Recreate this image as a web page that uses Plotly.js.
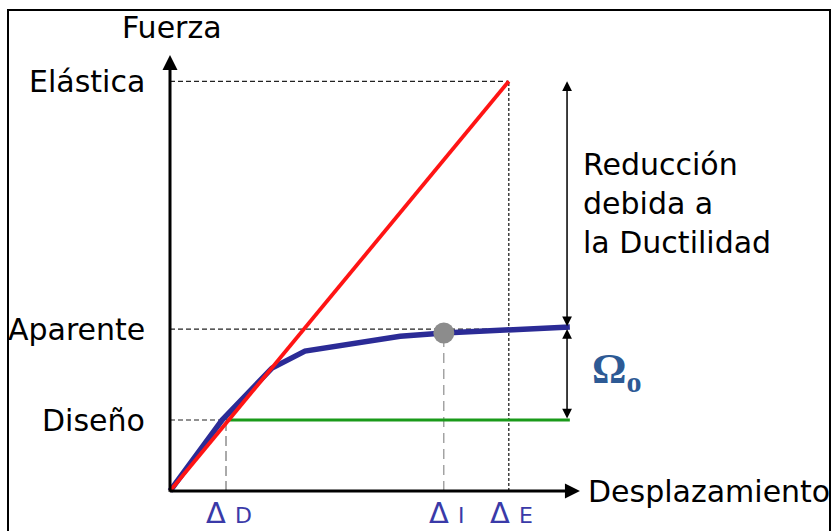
<!DOCTYPE html>
<html>
<head>
<meta charset="utf-8">
<script src="https://cdn.plot.ly/plotly-3.0.1.min.js"></script>
<style>html,body{margin:0;padding:0;background:#fff;}#chart{width:834px;height:531px;}</style>
</head>
<body>
<div id="chart"></div>
<script>
// Niveles de fuerza (unidades relativas a la fuerza de diseño)
const niveles = ['Diseño', 'Aparente', 'Elástica'];
const fuerzas = [1.0, 2.28, 5.77];
// Desplazamientos característicos (relativos a Δ_D)
const hitos = ['D', 'I', 'E'];
const desplazamientos = [1.0, 4.89, 6.05];
// Respuesta elástica
const elasticaX = [0, 6.05];
const elasticaY = [0, 5.77];
// Respuesta real (capacidad)
const realX = [0, 0.93, 1.82, 2.41, 4.11, 4.89, 7.14];
const realY = [0, 1.0, 1.73, 1.97, 2.18, 2.225, 2.31];
// Nivel de diseño
const disenoX = [1.0, 7.14];
const disenoY = [1.0, 1.0];
// Extremos de ejes y flechas de cotas
const ejeYmax = 6.14;
const ejeXmax = 7.32;
const cotaX = 7.09;
const cotaAparente = 2.30;

const FONT = 'DejaVu Sans, Verdana, sans-serif';
const traces = [];

// Dashed reference lines
traces.push({x: [0, desplazamientos[2]], y: [fuerzas[2], fuerzas[2]], mode: 'lines', line: {color: '#222', width: 1.2, dash: '5px,3px'}, hoverinfo: 'skip'});
traces.push({x: [0, cotaX - 0.1], y: [fuerzas[1], fuerzas[1]], mode: 'lines', line: {color: '#222', width: 1.2, dash: '5px,3px'}, hoverinfo: 'skip'});
traces.push({x: [0, desplazamientos[0]], y: [fuerzas[0], fuerzas[0]], mode: 'lines', line: {color: '#222', width: 1.2, dash: '5px,3px'}, hoverinfo: 'skip'});
traces.push({x: [desplazamientos[0], desplazamientos[0]], y: [0, fuerzas[0]], mode: 'lines', line: {color: '#555', width: 1, dash: '10px,5px'}, hoverinfo: 'skip'});
traces.push({x: [desplazamientos[1], desplazamientos[1]], y: [0, realY[5]], mode: 'lines', line: {color: '#777', width: 1, dash: '10px,6px'}, hoverinfo: 'skip'});
traces.push({x: [desplazamientos[2], desplazamientos[2]], y: [0, fuerzas[2]], mode: 'lines', line: {color: '#222', width: 1.3, dash: '3px,2px'}, hoverinfo: 'skip'});

// Main curves
traces.push({x: disenoX, y: disenoY, mode: 'lines', line: {color: '#1a9a1a', width: 3}, hoverinfo: 'skip'});
traces.push({x: realX, y: realY, mode: 'lines', line: {color: '#2b2b96', width: 5.5}, hoverinfo: 'skip'});
traces.push({x: elasticaX, y: elasticaY, mode: 'lines', line: {color: '#ff1414', width: 3.8}, hoverinfo: 'skip'});
traces.push({x: [desplazamientos[1]], y: [realY[5]], mode: 'markers', marker: {color: '#8c8c8c', size: 21}, hoverinfo: 'skip'});

const ann = [];
// Axes as arrows
ann.push({x: 0, y: ejeYmax, ax: 0, ay: -0.03, xref: 'x', yref: 'y', axref: 'x', ayref: 'y', showarrow: true, arrowhead: 2, arrowsize: 1, arrowwidth: 3, arrowcolor: '#000', text: ''});
ann.push({x: ejeXmax, y: 0, ax: -0.03, ay: 0, xref: 'x', yref: 'y', axref: 'x', ayref: 'y', showarrow: true, arrowhead: 2, arrowsize: 1, arrowwidth: 3, arrowcolor: '#000', text: ''});
// Dimension arrows
ann.push({x: cotaX, y: fuerzas[2], ax: cotaX, ay: cotaAparente, xref: 'x', yref: 'y', axref: 'x', ayref: 'y', showarrow: true, arrowhead: 2, startarrowhead: 2, arrowside: 'end+start', arrowsize: 1.3, startarrowsize: 1.3, arrowwidth: 1.5, arrowcolor: '#000', text: ''});
ann.push({x: cotaX, y: cotaAparente - 0.02, ax: cotaX, ay: fuerzas[0], xref: 'x', yref: 'y', axref: 'x', ayref: 'y', showarrow: true, arrowhead: 2, startarrowhead: 2, arrowside: 'end+start', arrowsize: 1.3, startarrowsize: 1.3, arrowwidth: 1.5, arrowcolor: '#000', text: ''});

// Level labels on the left
niveles.forEach((n, i) => {
  ann.push({x: 147 / 834, xref: 'paper', y: fuerzas[i], yref: 'y', text: n, showarrow: false, xanchor: 'right', yanchor: 'middle', font: {family: FONT, size: 30, color: '#000'}});
});
// Displacement labels
hitos.forEach((h, i) => {
  ann.push({x: desplazamientos[i] + 0.05, xref: 'x', y: -0.31, yref: 'y', text: 'Δ <span style="font-size:22px">' + h + '</span>', showarrow: false, xanchor: 'center', yanchor: 'middle', font: {family: FONT, size: 29, color: '#3a3aa8'}});
});
// Axis titles
ann.push({x: 172 / 834, xref: 'paper', y: 1 - 28 / 531, yref: 'paper', text: 'Fuerza', showarrow: false, xanchor: 'center', yanchor: 'middle', font: {family: FONT, size: 30, color: '#000'}});
ann.push({x: 586 / 834, xref: 'paper', y: 0, yref: 'y', text: 'Desplazamiento', showarrow: false, xanchor: 'left', yanchor: 'middle', font: {family: FONT, size: 30, color: '#000'}});
// Reduction text
ann.push({x: 581 / 834, xref: 'paper', y: 1 - 203 / 531, yref: 'paper', text: 'Reducción<br>debida a<br>la Ductilidad', align: 'left', showarrow: false, xanchor: 'left', yanchor: 'middle', font: {family: FONT, size: 30, color: '#000'}});
// Omega
ann.push({x: 590 / 834, xref: 'paper', y: 1 - 372 / 531, yref: 'paper', text: '<b>Ω</b><sub><b>o</b></sub>', showarrow: false, xanchor: 'left', yanchor: 'middle', font: {family: 'Liberation Serif, Times New Roman, serif', size: 43, color: '#2d5a95'}});

const layout = {
  width: 834, height: 531,
  margin: {l: 0, r: 0, t: 0, b: 0},
  paper_bgcolor: '#fff', plot_bgcolor: '#fff',
  showlegend: false,
  xaxis: {range: [-170 / 56, 664 / 56], visible: false, fixedrange: true},
  yaxis: {range: [-40 / 71, 491 / 71], visible: false, fixedrange: true},
  annotations: ann,
  shapes: [
    {type: 'rect', xref: 'paper', yref: 'paper', x0: 8 / 834, x1: 830 / 834, y0: -0.05, y1: 1 - 10 / 531, line: {color: '#000', width: 2}, fillcolor: 'rgba(0,0,0,0)'}
  ]
};

Plotly.newPlot('chart', traces, layout, {staticPlot: true, displayModeBar: false});
</script>
</body>
</html>
